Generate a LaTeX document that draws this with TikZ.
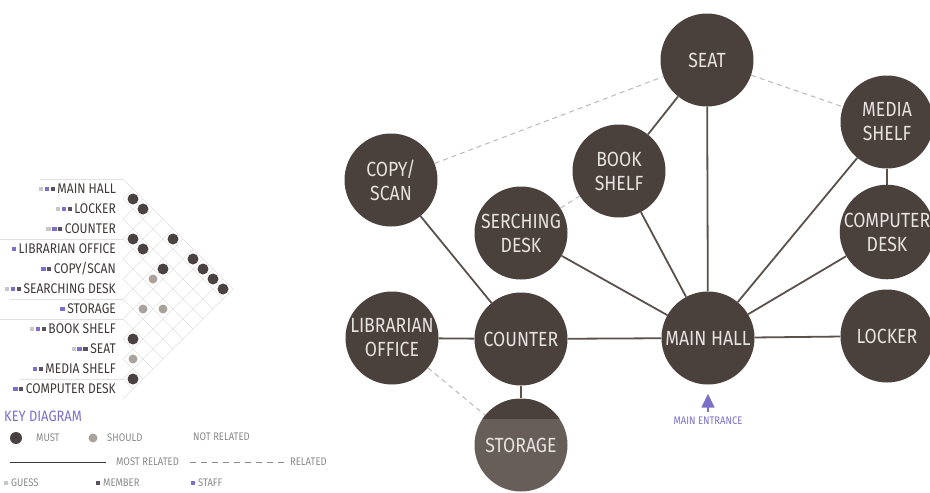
\documentclass[tikz,border=0pt]{standalone}
\usepackage{fontspec}
\setmainfont{Fira Sans}
\newfontfamily\cond[FakeStretch=0.86]{Fira Sans}
\usetikzlibrary{arrows.meta}
\definecolor{nodebrown}{HTML}{4A413D}
\definecolor{storelight}{HTML}{675E5A}
\definecolor{nodetext}{HTML}{E6E2DE}
\definecolor{linec}{HTML}{5A514D}
\definecolor{dashc}{HTML}{BDB8B6}
\definecolor{gridc}{HTML}{E4E0E0}
\definecolor{mustc}{HTML}{4A4240}
\definecolor{shouldc}{HTML}{AAA29C}
\definecolor{guestc}{HTML}{C9C5C9}
\definecolor{memberc}{HTML}{5A5060}
\definecolor{staffc}{HTML}{7B6FC9}
\definecolor{lblc}{HTML}{3E3838}
\definecolor{keyc}{HTML}{8A8888}
\tikzset{
  room/.style={circle, fill=nodebrown, minimum size=93pt, inner sep=0pt, text=nodetext,
    font=\cond\fontsize{20.5}{24}\selectfont, align=center},
  solidlink/.style={draw=linec, line width=1.8pt},
  dashlink/.style={draw=dashc, line width=1pt, dash pattern=on 5pt off 4pt},
  lbl/.style={anchor=east, inner sep=0pt, text=lblc, font=\cond\fontsize{14}{16}\selectfont},
  sq/.style={anchor=east, inner sep=0pt, minimum size=4.5pt},
  mustdot/.style={circle, fill=mustc, minimum size=11pt, inner sep=0pt},
  shoulddot/.style={circle, fill=shouldc, minimum size=9pt, inner sep=0pt},
  gridline/.style={draw=gridc, line width=0.6pt},
  keytxt/.style={inner sep=0pt, anchor=west, text=keyc, font=\cond\fontsize{11}{13}\selectfont},
}
\begin{document}
\begin{tikzpicture}[x=1pt,y=-1pt]
\useasboundingbox (0,0) rectangle (930,493);
% ---------- matrix grid ----------
\foreach \m in {0,...,11} {
  \pgfmathsetmacro\b{179+20*\m}
  \pgfmathsetmacro\td{(399-\b)/2}
  \pgfmathsetmacro\tu{(\b-179)/2}
  \draw[gridline] (123,\b) -- ++(\td,\td);
  \draw[gridline] (123,\b) -- ++(\tu,-\tu);
}
\draw[gridline] (40,179) -- (123,179);
\draw[gridline] (0,239) -- (123,239);
\draw[gridline] (10,299) -- (123,299);
\draw[gridline] (0,319) -- (123,319);
\draw[gridline] (20,379) -- (123,379);
% ---------- matrix labels ----------
\node[lbl] (l0) at (116,189) {MAIN HALL};
\node[lbl] (l1) at (116,209) {LOCKER};
\node[lbl] (l2) at (116,229) {COUNTER};
\node[lbl] (l3) at (116,249) {LIBRARIAN OFFICE};
\node[lbl] (l4) at (116,269) {COPY/SCAN};
\node[lbl] (l5) at (116,289) {SEARCHING DESK};
\node[lbl] (l6) at (116,309) {STORAGE};
\node[lbl] (l7) at (116,329) {BOOK SHELF};
\node[lbl] (l8) at (116,349) {SEAT};
\node[lbl] (l9) at (116,369) {MEDIA SHELF};
\node[lbl] (l10) at (116,389) {COMPUTER DESK};
% icons
\foreach \r in {0,1,2,5,7,8} {
  \node[sq, fill=memberc] (m\r) at ([xshift=-2pt]l\r.west) {};
  \node[sq, fill=staffc] (s\r) at ([xshift=-1pt]m\r.west) {};
  \node[sq, fill=guestc] (g\r) at ([xshift=-1pt]s\r.west) {};
}
\foreach \r in {4,9,10} {
  \node[sq, fill=memberc] (m\r) at ([xshift=-2pt]l\r.west) {};
  \node[sq, fill=staffc] (s\r) at ([xshift=-1pt]m\r.west) {};
}
\foreach \r in {3,6} {
  \node[sq, fill=staffc] (s\r) at ([xshift=-2pt]l\r.west) {};
}
% ---------- matrix dots (i,j): x=123+10(j-i), y=189+10(i+j) ----------
\foreach \i/\j [count=\n] in {0/1,0/2,2/3,2/4,0/5,2/6,0/7,0/8,0/9,0/10,7/8,9/10} {
  \node[mustdot] (md\n) at ({123+10*(\j-\i)},{189+10*(\i+\j)}) {};
}
\foreach \i/\j [count=\n] in {3/6,5/7,4/8,8/9} {
  \node[shoulddot] (sd\n) at ({123+10*(\j-\i)},{189+10*(\i+\j)}) {};
}
% ---------- key ----------
\node[inner sep=0pt, anchor=west, text=staffc, font=\cond\fontsize{15}{17}\selectfont] (keyt) at (4,416) {KEY DIAGRAM};
\node[mustdot, minimum size=12pt] (kmust) at (16,438) {};
\node[keytxt] (kmustt) at (36,438) {MUST};
\node[shoulddot] (kshould) at (93,438) {};
\node[keytxt] (kshouldt) at (107,438) {SHOULD};
\node[keytxt] (knot) at (193,437) {NOT RELATED};
\coordinate (ks1) at (10,462);
\coordinate (ks2) at (106,462);
\draw[draw=lblc, line width=1pt] (ks1) -- (ks2);
\node[keytxt] (kmost) at (116,462) {MOST RELATED};
\coordinate (kd1) at (190,462);
\coordinate (kd2) at (285,462);
\draw[draw=keyc, line width=0.7pt, dash pattern=on 6pt off 5pt] (kd1) -- (kd2);
\node[keytxt] (krel) at (290,462) {RELATED};
\node[sq, anchor=center, minimum size=3.5pt, fill=guestc] (kg) at (6,483) {};
\node[keytxt] (kgt) at (11,483) {GUESS};
\node[sq, anchor=center, minimum size=3.5pt, fill=memberc] (km) at (98,483) {};
\node[keytxt] (kmt) at (103,483) {MEMBER};
\node[sq, anchor=center, minimum size=3.5pt, fill=staffc] (kst) at (193,483) {};
\node[keytxt] (kstt) at (198,483) {STAFF};
% ---------- graph ----------
\node[room] (seat) at (707,60) {SEAT};
\node[room] (media) at (887,122) {MEDIA\\SHELF};
\node[room] (copy) at (391,180) {COPY/\\SCAN};
\node[room] (book) at (619,171) {BOOK\\SHELF};
\node[room] (serch) at (521,233) {SERCHING\\DESK};
\node[room] (comp) at (887,232) {COMPUTER\\DESK};
\node[room] (lib) at (392,338) {LIBRARIAN\\OFFICE};
\node[room] (counter) at (521,339) {COUNTER};
\node[room] (hall) at (708,338) {MAIN HALL};
\node[room] (locker) at (887,336) {LOCKER};
\node[room, fill=storelight, path picture={\fill[nodebrown] (path picture bounding box.north west) rectangle ([yshift=-20pt]path picture bounding box.north east);}] (storage) at (521,445) {STORAGE};
% connectors
\draw[dashlink] (copy) -- (seat);
\draw[dashlink] (seat) -- (media);
\draw[dashlink] (serch) -- (book);
\draw[dashlink] (lib) -- (storage);
\draw[solidlink] (seat) -- (book);
\draw[solidlink] (seat) -- (hall);
\draw[solidlink] (book) -- (hall);
\draw[solidlink] (serch) -- (hall);
\draw[solidlink] (media) -- (hall);
\draw[solidlink] (comp) -- (hall);
\draw[solidlink] (media) -- (comp);
\draw[solidlink] (copy) -- (counter);
\draw[solidlink] (lib) -- (counter);
\draw[solidlink] (counter) -- (hall);
\draw[solidlink] (hall) -- (locker);
\draw[solidlink] (counter) -- (storage);
% ---------- entrance ----------
\coordinate (ent) at (708,412);
\draw[staffc, line width=1.5pt, -{Triangle[width=13pt,length=14pt]}] (ent) -- ([yshift=-9pt]hall.south);
\node[inner sep=0pt, text=staffc, font=\cond\fontsize{11}{13}\selectfont] (entt) at (708,421) {MAIN ENTRANCE};
\end{tikzpicture}
\end{document}
